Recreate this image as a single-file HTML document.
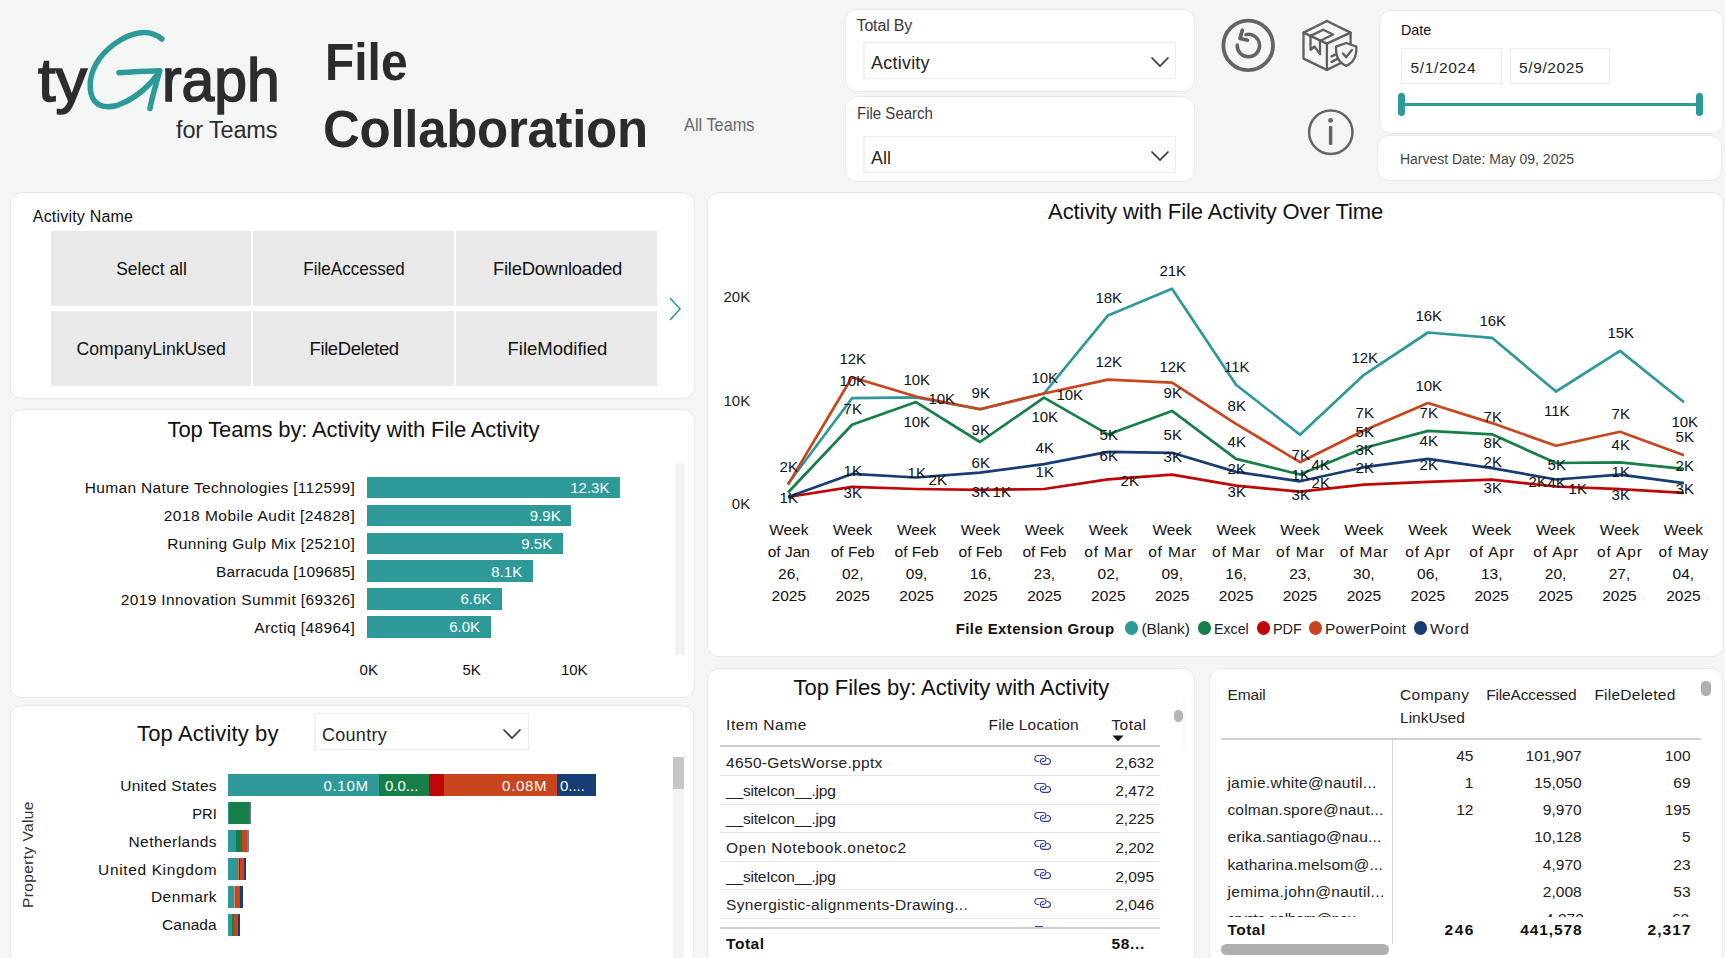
<!DOCTYPE html>
<html><head><meta charset="utf-8"><style>
html,body{margin:0;padding:0;}
body{width:1725px;height:958px;overflow:hidden;background:#f4f5f5;position:relative;font-family:'Liberation Sans',sans-serif;}
</style></head><body>
<svg style="position:absolute;left:0;top:0" width="300" height="160" viewBox="0 0 300 160">
<path d="M161.9,39 C155,33.5 147,31.8 139,33 C123,35.5 105,48.5 96,64 C89,77 88,92 94.5,101 C99.5,107 107,108 117,105.5 C130,101 142,92 150.5,83 C155,78 158,74 159.6,71.2" fill="none" stroke="#2e9999" stroke-width="5.5" stroke-linecap="round"/>
<path d="M119,72.7 C132,72 147,71 159.6,70.8 C157,82 152,96 150,108.5" fill="none" stroke="#2e9999" stroke-width="5.5" stroke-linecap="round" stroke-linejoin="round"/>
</svg>
<div style="position:absolute;left:845px;top:9px;width:350px;height:83px;background:#fff;border:1px solid #e8e8e8;border-radius:12px;box-sizing:border-box"></div>
<div style="position:absolute;left:845px;top:96px;width:350px;height:86px;background:#fff;border:1px solid #e8e8e8;border-radius:12px;box-sizing:border-box"></div>
<div style="position:absolute;left:863px;top:42px;width:313px;height:37px;border:1px solid #eeeeee;border-left:2px solid #f1f1f1;box-sizing:border-box;background:#fff"></div>
<div style="position:absolute;left:863px;top:136px;width:313px;height:37px;border:1px solid #eeeeee;border-left:2px solid #f1f1f1;box-sizing:border-box;background:#fff"></div>
<svg style="position:absolute;left:1149.5px;top:55.5px" width="20" height="12" viewBox="0 0 20 12"><path d="M1.5,1.5 L10,10 L18.5,1.5" fill="none" stroke="#333" stroke-width="1.6"/></svg>
<svg style="position:absolute;left:1149.5px;top:149.5px" width="20" height="12" viewBox="0 0 20 12"><path d="M1.5,1.5 L10,10 L18.5,1.5" fill="none" stroke="#333" stroke-width="1.6"/></svg>
<svg style="position:absolute;left:1215px;top:12px" width="68" height="68" viewBox="1215 12 68 68">
<circle cx="1248.2" cy="45.4" r="24.8" fill="none" stroke="#646464" stroke-width="3.8"/>
<path d="M1237.2,45 A11.2,11.2 0 1 0 1246,34.6" fill="none" stroke="#646464" stroke-width="3.5" stroke-linecap="round"/>
<path d="M1242.3,30.3 L1240,38.5 L1247.5,40.3" fill="none" stroke="#646464" stroke-width="3.7" stroke-linecap="round" stroke-linejoin="round"/>
</svg>
<svg style="position:absolute;left:1295px;top:15px" width="70" height="62" viewBox="1295 15 70 62">
<g fill="none" stroke="#5f5f5f" stroke-width="2.3" stroke-linejoin="round" stroke-linecap="round">
<path d="M1326.9,21 L1303.5,32.6 L1303.5,58.6 L1326.9,69.9 L1340.4,63.3"/>
<path d="M1326.9,21 L1350.6,32.6 L1350.6,43.2"/>
<path d="M1303.5,32.6 L1326.9,43.6 L1350.6,32.6"/>
<path d="M1326.9,43.6 L1326.9,69.9"/>
<path d="M1310.5,35.9 L1323.2,29.7 L1333.1,34.5 L1320.3,40.7"/>
<path d="M1310.5,35.9 L1310.5,49.8 L1314.5,46.5 L1320,54.2 L1320,40.7"/>
<path d="M1331.6,56.4 L1335.3,54.6 M1331.6,61.9 L1338.2,58.6"/>
<path d="M1346.2,43 L1336,46.6 C1335.8,52 1336.2,57 1340,61.5 C1342,63.8 1344,65 1346.2,65.8 C1348.4,65 1350.4,63.8 1352.4,61.5 C1356.2,57 1356.6,52 1356.4,46.6 Z"/>
<path d="M1343,53.5 L1346.2,57.3 L1352,49.9"/>
</g></svg>
<svg style="position:absolute;left:1303px;top:104px" width="56" height="56" viewBox="1303 104 56 56">
<circle cx="1330.8" cy="132.2" r="21.7" fill="none" stroke="#646464" stroke-width="2.5"/>
<circle cx="1330.6" cy="120.4" r="2.4" fill="#646464"/>
<rect x="1328.9" y="126.1" width="3.4" height="18.7" fill="#646464"/>
</svg>
<div style="position:absolute;left:1379px;top:10px;width:345px;height:124px;background:#fff;border:1px solid #e8e8e8;border-radius:12px;box-sizing:border-box"></div>
<div style="position:absolute;left:1377px;top:135px;width:345px;height:46px;background:#fff;border:1px solid #e8e8e8;border-radius:12px;box-sizing:border-box"></div>
<div style="position:absolute;left:1401px;top:48px;width:101px;height:36px;border:1px solid #ececec;box-sizing:border-box"></div>
<div style="position:absolute;left:1510px;top:48px;width:100px;height:36px;border:1px solid #ececec;box-sizing:border-box"></div>
<div style="position:absolute;left:1401.6px;top:102.7px;width:298px;height:3.8px;background:#2e9999"></div>
<div style="position:absolute;left:1398.2px;top:93.3px;width:6.8px;height:23.1px;background:#2e9999;border-radius:3.4px"></div>
<div style="position:absolute;left:1696.3px;top:93.3px;width:6.8px;height:23.1px;background:#2e9999;border-radius:3.4px"></div>
<div style="position:absolute;left:10px;top:192px;width:685px;height:207px;background:#fff;border:1px solid #e8e8e8;border-radius:12px;box-sizing:border-box"></div>
<div style="position:absolute;left:50.6px;top:231.2px;width:200.6px;height:74.5px;background:#e9e9e9"></div>
<div style="position:absolute;left:50.6px;top:311.1px;width:200.6px;height:75.39999999999998px;background:#e9e9e9"></div>
<div style="position:absolute;left:253.1px;top:231.2px;width:201.00000000000003px;height:74.5px;background:#e9e9e9"></div>
<div style="position:absolute;left:253.1px;top:311.1px;width:201.00000000000003px;height:75.39999999999998px;background:#e9e9e9"></div>
<div style="position:absolute;left:456px;top:231.2px;width:200.70000000000005px;height:74.5px;background:#e9e9e9"></div>
<div style="position:absolute;left:456px;top:311.1px;width:200.70000000000005px;height:75.39999999999998px;background:#e9e9e9"></div>
<svg style="position:absolute;left:664.8px;top:296px" width="20" height="28" viewBox="0 0 20 28"><path d="M5,2 L15,13 L5,24" fill="none" stroke="#2e9999" stroke-width="1.6"/></svg>
<div style="position:absolute;left:10px;top:409px;width:685px;height:289px;background:#fff;border:1px solid #e8e8e8;border-radius:12px;box-sizing:border-box"></div>
<div style="position:absolute;left:674.5px;top:462.9px;width:10.5px;height:192px;background:#f3f3f3"></div>
<div style="position:absolute;left:367.3px;top:476.7px;width:252.8px;height:21.7px;background:#2e9999"></div>
<div style="position:absolute;left:367.3px;top:504.59999999999997px;width:204.09999999999997px;height:21.7px;background:#2e9999"></div>
<div style="position:absolute;left:367.3px;top:532.5px;width:195.59999999999997px;height:21.7px;background:#2e9999"></div>
<div style="position:absolute;left:367.3px;top:560.4px;width:165.59999999999997px;height:21.7px;background:#2e9999"></div>
<div style="position:absolute;left:367.3px;top:588.3px;width:134.7px;height:21.7px;background:#2e9999"></div>
<div style="position:absolute;left:367.3px;top:616.2px;width:123.39999999999998px;height:21.7px;background:#2e9999"></div>
<div style="position:absolute;left:10px;top:705px;width:684px;height:259px;background:#fff;border:1px solid #e8e8e8;border-radius:12px;box-sizing:border-box"></div>
<div style="position:absolute;left:314px;top:713px;width:215px;height:37px;border:1px solid #eeeeee;border-left:2px solid #f1f1f1;box-sizing:border-box;background:#fff"></div>
<svg style="position:absolute;left:501.5px;top:727.5px" width="20" height="12" viewBox="0 0 20 12"><path d="M1.5,1.5 L10,10 L18.5,1.5" fill="none" stroke="#333" stroke-width="1.6"/></svg>
<div style="position:absolute;left:673px;top:756.7px;width:10.8px;height:210px;background:#f3f3f3"></div>
<div style="position:absolute;left:673px;top:756.7px;width:10.8px;height:32.5px;background:#c6c6c6"></div>
<div style="position:absolute;left:228px;top:774.1px;width:367.79999999999995px;height:21.6px;background:linear-gradient(to right,#2e9999 0.00px 151.50px,#167f48 151.50px 201.40px,#bf0707 201.40px 216.40px,#c9451d 216.40px 329.20px,#163e75 329.20px 367.80px)"></div>
<div style="position:absolute;left:228px;top:802.1px;width:23.400000000000006px;height:21.6px;background:linear-gradient(to right,#2e9999 0.00px 1.30px,#167f48 1.30px 20.60px,#c9451d 20.60px 22.20px,#7a6a8a 22.20px 23.40px)"></div>
<div style="position:absolute;left:228px;top:830.2px;width:20.900000000000006px;height:21.6px;background:linear-gradient(to right,#2e9999 0.00px 8.40px,#167f48 8.40px 14.30px,#c9451d 14.30px 19.20px,#6d7fa8 19.20px 20.90px)"></div>
<div style="position:absolute;left:228px;top:858.2px;width:18.30000000000001px;height:21.6px;background:linear-gradient(to right,#2e9999 0.00px 9.90px,#d86a48 9.90px 10.80px,#bf0707 10.80px 12.10px,#c9451d 12.10px 16.20px,#163e75 16.20px 18.30px)"></div>
<div style="position:absolute;left:228px;top:886.2px;width:14.599999999999994px;height:21.6px;background:linear-gradient(to right,#2e9999 0.00px 6.10px,#d98a6c 6.10px 7.50px,#c9451d 7.50px 11.80px,#163e75 11.80px 14.60px)"></div>
<div style="position:absolute;left:228px;top:914.2px;width:12.199999999999989px;height:21.6px;background:linear-gradient(to right,#2e9999 0.00px 4.10px,#167f48 4.10px 6.20px,#c9451d 6.20px 10.50px,#163e75 10.50px 12.20px)"></div>
<div style="position:absolute;left:707px;top:192px;width:1017px;height:465px;background:#fff;border:1px solid #e8e8e8;border-radius:12px;box-sizing:border-box"></div>
<svg style="position:absolute;left:0;top:0;z-index:3" width="1725" height="958"><polyline points="788,497.0 852,486.9 916,489.0 980,489.9 1044,489.0 1108,479.3 1172,474.6 1236,485.7 1300,491.7 1364,484.7 1428,481.8 1492,479.7 1556,486.5 1620,489.2 1684,492.9" fill="none" stroke="#bf0707" stroke-width="2.7" stroke-linejoin="round" stroke-linecap="butt"/><polyline points="788,497.0 852,473.9 916,477.5 980,472.7 1044,464.2 1108,451.9 1172,452.8 1236,471.9 1300,481.3 1364,467.2 1428,458.9 1492,468.2 1556,479.5 1620,474.6 1684,483.2" fill="none" stroke="#163e75" stroke-width="2.7" stroke-linejoin="round" stroke-linecap="butt"/><polyline points="788,492.5 852,424.8 916,402.1 980,442.0 1044,397.7 1108,434.4 1172,410.9 1236,458.9 1300,474.5 1364,448.0 1428,430.9 1492,434.3 1556,463.0 1620,462.3 1684,468.9" fill="none" stroke="#167f48" stroke-width="2.7" stroke-linejoin="round" stroke-linecap="butt"/><polyline points="788,483.7 852,398.2 916,397.3 980,409.2 1044,393.5 1108,315.4 1172,288.7 1236,384.7 1300,434.8 1364,374.8 1428,332.5 1492,337.8 1556,391.5 1620,350.9 1684,402.3" fill="none" stroke="#2e9999" stroke-width="2.7" stroke-linejoin="round" stroke-linecap="butt"/><polyline points="788,484.6 852,377.3 916,396.5 980,409.2 1044,393.5 1108,379.6 1172,382.7 1236,423.9 1300,462.2 1364,430.5 1428,403.0 1492,423.1 1556,445.8 1620,431.8 1684,455.3" fill="none" stroke="#c9451d" stroke-width="2.7" stroke-linejoin="round" stroke-linecap="butt"/></svg>
<div style="position:absolute;left:1124.8px;top:621.4000000000001px;width:13.6px;height:13.6px;background:#2e9999;border-radius:50%"></div>
<div style="position:absolute;left:1197.8px;top:621.4000000000001px;width:13.6px;height:13.6px;background:#167f48;border-radius:50%"></div>
<div style="position:absolute;left:1256.6000000000001px;top:621.4000000000001px;width:13.6px;height:13.6px;background:#bf0707;border-radius:50%"></div>
<div style="position:absolute;left:1308.9px;top:621.4000000000001px;width:13.6px;height:13.6px;background:#c9451d;border-radius:50%"></div>
<div style="position:absolute;left:1413.8px;top:621.4000000000001px;width:13.6px;height:13.6px;background:#163e75;border-radius:50%"></div>
<div style="position:absolute;left:707px;top:668px;width:488px;height:297px;background:#fff;border:1px solid #e8e8e8;border-radius:12px;box-sizing:border-box"></div>
<svg style="position:absolute;left:1111.5px;top:734.5px" width="12" height="7" viewBox="0 0 12 7"><path d="M0.5,0.5 L11.5,0.5 L6,6.5 Z" fill="#111"/></svg>
<div style="position:absolute;left:720px;top:745px;width:440.2px;height:2px;background:#cfcfcf"></div>
<div style="position:absolute;left:720px;top:775.2px;width:440.2px;height:1px;background:#e6e6e6"></div>
<svg style="position:absolute;left:1034px;top:753.9px" width="18" height="12" viewBox="1034 753.9 18 12"><g fill="none" stroke="#2f3f9a" stroke-width="1.1" stroke-linecap="round"><path d="M1038.6,761.4 L1037.8,761.4 A3,3 0 0 1 1037.8,755.4 L1043,755.4 A3,3 0 0 1 1043,761.4 L1042.1,761.4"/><path d="M1043.6,758.4 L1042.8,758.4 A3,3 0 0 0 1042.8,764.3 L1048,764.3 A3,3 0 0 0 1048,758.4 L1047.1,758.4"/></g></svg>
<div style="position:absolute;left:720px;top:803.7px;width:440.2px;height:1px;background:#e6e6e6"></div>
<svg style="position:absolute;left:1034px;top:782.4px" width="18" height="12" viewBox="1034 782.4 18 12"><g fill="none" stroke="#2f3f9a" stroke-width="1.1" stroke-linecap="round"><path d="M1038.6,789.9 L1037.8,789.9 A3,3 0 0 1 1037.8,783.9 L1043,783.9 A3,3 0 0 1 1043,789.9 L1042.1,789.9"/><path d="M1043.6,786.9 L1042.8,786.9 A3,3 0 0 0 1042.8,792.8 L1048,792.8 A3,3 0 0 0 1048,786.9 L1047.1,786.9"/></g></svg>
<div style="position:absolute;left:720px;top:832.1px;width:440.2px;height:1px;background:#e6e6e6"></div>
<svg style="position:absolute;left:1034px;top:810.8px" width="18" height="12" viewBox="1034 810.8 18 12"><g fill="none" stroke="#2f3f9a" stroke-width="1.1" stroke-linecap="round"><path d="M1038.6,818.3 L1037.8,818.3 A3,3 0 0 1 1037.8,812.3 L1043,812.3 A3,3 0 0 1 1043,818.3 L1042.1,818.3"/><path d="M1043.6,815.3 L1042.8,815.3 A3,3 0 0 0 1042.8,821.2 L1048,821.2 A3,3 0 0 0 1048,815.3 L1047.1,815.3"/></g></svg>
<div style="position:absolute;left:720px;top:860.6px;width:440.2px;height:1px;background:#e6e6e6"></div>
<svg style="position:absolute;left:1034px;top:839.3px" width="18" height="12" viewBox="1034 839.3 18 12"><g fill="none" stroke="#2f3f9a" stroke-width="1.1" stroke-linecap="round"><path d="M1038.6,846.8 L1037.8,846.8 A3,3 0 0 1 1037.8,840.8 L1043,840.8 A3,3 0 0 1 1043,846.8 L1042.1,846.8"/><path d="M1043.6,843.8 L1042.8,843.8 A3,3 0 0 0 1042.8,849.7 L1048,849.7 A3,3 0 0 0 1048,843.8 L1047.1,843.8"/></g></svg>
<div style="position:absolute;left:720px;top:889.3px;width:440.2px;height:1px;background:#e6e6e6"></div>
<svg style="position:absolute;left:1034px;top:868.0px" width="18" height="12" viewBox="1034 868.0 18 12"><g fill="none" stroke="#2f3f9a" stroke-width="1.1" stroke-linecap="round"><path d="M1038.6,875.5 L1037.8,875.5 A3,3 0 0 1 1037.8,869.5 L1043,869.5 A3,3 0 0 1 1043,875.5 L1042.1,875.5"/><path d="M1043.6,872.5 L1042.8,872.5 A3,3 0 0 0 1042.8,878.4 L1048,878.4 A3,3 0 0 0 1048,872.5 L1047.1,872.5"/></g></svg>
<div style="position:absolute;left:720px;top:918px;width:440.2px;height:1px;background:#e6e6e6"></div>
<svg style="position:absolute;left:1034px;top:896.7px" width="18" height="12" viewBox="1034 896.7 18 12"><g fill="none" stroke="#2f3f9a" stroke-width="1.1" stroke-linecap="round"><path d="M1038.6,904.2 L1037.8,904.2 A3,3 0 0 1 1037.8,898.2 L1043,898.2 A3,3 0 0 1 1043,904.2 L1042.1,904.2"/><path d="M1043.6,901.2 L1042.8,901.2 A3,3 0 0 0 1042.8,907.1 L1048,907.1 A3,3 0 0 0 1048,901.2 L1047.1,901.2"/></g></svg>
<div style="position:absolute;left:1035px;top:925.5px;width:8px;height:1.2px;background:#2f3f9a"></div>
<div style="position:absolute;left:720px;top:926.5px;width:440.2px;height:2px;background:#cfcfcf"></div>
<div style="position:absolute;left:1173.6px;top:709.7px;width:9px;height:12.5px;background:#b4b4b4;border-radius:4.5px"></div>
<div style="position:absolute;left:1183px;top:700px;width:2px;height:50px;background:#f7f7f7"></div>
<div style="position:absolute;left:1209px;top:668px;width:514px;height:299px;background:#fff;border:1px solid #e8e8e8;border-radius:12px;box-sizing:border-box"></div>
<div style="position:absolute;left:1221px;top:737.8px;width:479.8px;height:2px;background:#cfcfcf"></div>
<div style="position:absolute;left:1391.5px;top:739.5px;width:1.2px;height:204px;background:#d6d6d6"></div>
<div style="position:absolute;left:1220px;top:910px;width:480px;height:6.6px;overflow:hidden;z-index:5"><div style="position:absolute;left:7.3px;top:1.2px;font-family:'Liberation Sans';font-size:15.5px;line-height:15.5px;color:#222;letter-spacing:-0.6px;white-space:pre">crysta.galbern@nau...</div><div style="position:absolute;left:325px;top:1.2px;font-family:'Liberation Sans';font-size:15.5px;line-height:15.5px;color:#222;white-space:pre">4,870</div><div style="position:absolute;left:452px;top:1.2px;font-family:'Liberation Sans';font-size:15.5px;line-height:15.5px;color:#222;white-space:pre">62</div></div>
<div style="position:absolute;left:1221.3px;top:944px;width:167.5px;height:11px;background:#b0afae;border-radius:5.5px"></div>
<div style="position:absolute;left:1701.4px;top:681px;width:9.3px;height:14.8px;background:#b0b0b0;border-radius:4.6px"></div>
<div style="position:absolute;top:49.78px;font-family:'Liberation Sans';font-size:60.5px;line-height:60.5px;font-weight:400;color:#2d2d2d;white-space:pre;z-index:5;left:37.87px;transform:scaleX(1.0461);transform-origin:0 0;-webkit-text-stroke:1.6px #2d2d2d;">ty</div>
<div style="position:absolute;top:49.78px;font-family:'Liberation Sans';font-size:60.5px;line-height:60.5px;font-weight:400;color:#2d2d2d;white-space:pre;z-index:5;left:162.45px;transform:scaleX(0.9730);transform-origin:0 0;-webkit-text-stroke:1.6px #2d2d2d;">raph</div>
<div style="position:absolute;top:119.03px;font-family:'Liberation Sans';font-size:23.5px;line-height:23.5px;font-weight:400;color:#2d2d2d;white-space:pre;z-index:5;letter-spacing:-0.168px;left:176.06px;">for Teams</div>
<div style="position:absolute;top:37.15px;font-family:'Liberation Sans';font-size:51px;line-height:51px;font-weight:700;color:#2b2b2b;white-space:pre;z-index:5;left:324.88px;transform:scaleX(0.9397);transform-origin:0 0;">File</div>
<div style="position:absolute;top:104.15px;font-family:'Liberation Sans';font-size:51px;line-height:51px;font-weight:700;color:#2b2b2b;white-space:pre;z-index:5;letter-spacing:-0.301px;left:323.06px;">Collaboration</div>
<div style="position:absolute;top:115.78px;font-family:'Liberation Sans';font-size:18.5px;line-height:18.5px;font-weight:400;color:#6a6a6a;white-space:pre;z-index:5;left:683.75px;transform:scaleX(0.8829);transform-origin:0 0;">All Teams</div>
<div style="position:absolute;top:17.50px;font-family:'Liberation Sans';font-size:16px;line-height:16px;font-weight:400;color:#3b3a39;white-space:pre;z-index:5;letter-spacing:-0.166px;left:856.56px;">Total By</div>
<div style="position:absolute;top:53.60px;font-family:'Liberation Sans';font-size:18px;line-height:18px;font-weight:400;color:#252423;white-space:pre;z-index:5;letter-spacing:0.209px;left:871.08px;">Activity</div>
<div style="position:absolute;top:106.40px;font-family:'Liberation Sans';font-size:16px;line-height:16px;font-weight:400;color:#3b3a39;white-space:pre;z-index:5;left:856.80px;transform:scaleX(0.9387);transform-origin:0 0;">File Search</div>
<div style="position:absolute;top:148.60px;font-family:'Liberation Sans';font-size:18px;line-height:18px;font-weight:400;color:#252423;white-space:pre;z-index:5;letter-spacing:0.032px;left:870.88px;">All</div>
<div style="position:absolute;top:22.25px;font-family:'Liberation Sans';font-size:15px;line-height:15px;font-weight:400;color:#111;white-space:pre;z-index:5;left:1401.33px;transform:scaleX(0.9562);transform-origin:0 0;">Date</div>
<div style="position:absolute;top:59.83px;font-family:'Liberation Sans';font-size:15.5px;line-height:15.5px;font-weight:400;color:#252423;white-space:pre;z-index:5;letter-spacing:0.684px;left:1410.38px;">5/1/2024</div>
<div style="position:absolute;top:59.83px;font-family:'Liberation Sans';font-size:15.5px;line-height:15.5px;font-weight:400;color:#252423;white-space:pre;z-index:5;letter-spacing:0.627px;left:1518.98px;">5/9/2025</div>
<div style="position:absolute;top:152.10px;font-family:'Liberation Sans';font-size:14px;line-height:14px;font-weight:400;color:#454545;white-space:pre;z-index:5;letter-spacing:-0.011px;left:1399.94px;">Harvest Date: May 09, 2025</div>
<div style="position:absolute;top:208.50px;font-family:'Liberation Sans';font-size:16px;line-height:16px;font-weight:400;color:#111;white-space:pre;z-index:5;letter-spacing:0.205px;left:32.76px;">Activity Name</div>
<div style="position:absolute;top:259.88px;font-family:'Liberation Sans';font-size:18.5px;line-height:18.5px;font-weight:400;color:#111;white-space:pre;z-index:5;left:114.26px;transform:scaleX(0.9405);transform-origin:50% 0;">Select all</div>
<div style="position:absolute;top:259.88px;font-family:'Liberation Sans';font-size:18.5px;line-height:18.5px;font-weight:400;color:#111;white-space:pre;z-index:5;left:299.49px;transform:scaleX(0.9209);transform-origin:50% 0;">FileAccessed</div>
<div style="position:absolute;top:259.88px;font-family:'Liberation Sans';font-size:18.5px;line-height:18.5px;font-weight:400;color:#111;white-space:pre;z-index:5;letter-spacing:-0.251px;left:492.89px;">FileDownloaded</div>
<div style="position:absolute;top:340.27px;font-family:'Liberation Sans';font-size:18.5px;line-height:18.5px;font-weight:400;color:#111;white-space:pre;z-index:5;left:73.14px;transform:scaleX(0.9552);transform-origin:50% 0;">CompanyLinkUsed</div>
<div style="position:absolute;top:340.27px;font-family:'Liberation Sans';font-size:18.5px;line-height:18.5px;font-weight:400;color:#111;white-space:pre;z-index:5;letter-spacing:-0.407px;left:309.55px;">FileDeleted</div>
<div style="position:absolute;top:340.27px;font-family:'Liberation Sans';font-size:18.5px;line-height:18.5px;font-weight:400;color:#111;white-space:pre;z-index:5;letter-spacing:-0.004px;left:507.55px;">FileModified</div>
<div style="position:absolute;top:418.80px;font-family:'Liberation Sans';font-size:22px;line-height:22px;font-weight:400;color:#111;white-space:pre;z-index:5;letter-spacing:-0.139px;left:167.62px;">Top Teams by: Activity with File Activity</div>
<div style="position:absolute;top:480.32px;font-family:'Liberation Sans';font-size:15.5px;line-height:15.5px;font-weight:400;color:#111;white-space:pre;z-index:5;letter-spacing:0.340px;right:1369.94px;">Human Nature Technologies [112599]</div>
<div style="position:absolute;top:479.85px;font-family:'Liberation Sans';font-size:15px;line-height:15px;font-weight:400;color:#fff;white-space:pre;z-index:5;right:1115.60px;">12.3K</div>
<div style="position:absolute;top:508.22px;font-family:'Liberation Sans';font-size:15.5px;line-height:15.5px;font-weight:400;color:#111;white-space:pre;z-index:5;letter-spacing:0.491px;right:1369.79px;">2018 Mobile Audit [24828]</div>
<div style="position:absolute;top:507.75px;font-family:'Liberation Sans';font-size:15px;line-height:15px;font-weight:400;color:#fff;white-space:pre;z-index:5;right:1164.30px;">9.9K</div>
<div style="position:absolute;top:536.12px;font-family:'Liberation Sans';font-size:15.5px;line-height:15.5px;font-weight:400;color:#111;white-space:pre;z-index:5;letter-spacing:0.357px;right:1369.92px;">Running Gulp Mix [25210]</div>
<div style="position:absolute;top:535.65px;font-family:'Liberation Sans';font-size:15px;line-height:15px;font-weight:400;color:#fff;white-space:pre;z-index:5;right:1172.80px;">9.5K</div>
<div style="position:absolute;top:564.02px;font-family:'Liberation Sans';font-size:15.5px;line-height:15.5px;font-weight:400;color:#111;white-space:pre;z-index:5;letter-spacing:0.151px;right:1370.13px;">Barracuda [109685]</div>
<div style="position:absolute;top:563.55px;font-family:'Liberation Sans';font-size:15px;line-height:15px;font-weight:400;color:#fff;white-space:pre;z-index:5;right:1202.80px;">8.1K</div>
<div style="position:absolute;top:591.92px;font-family:'Liberation Sans';font-size:15.5px;line-height:15.5px;font-weight:400;color:#111;white-space:pre;z-index:5;letter-spacing:0.374px;right:1369.91px;">2019 Innovation Summit [69326]</div>
<div style="position:absolute;top:591.45px;font-family:'Liberation Sans';font-size:15px;line-height:15px;font-weight:400;color:#fff;white-space:pre;z-index:5;right:1233.70px;">6.6K</div>
<div style="position:absolute;top:619.83px;font-family:'Liberation Sans';font-size:15.5px;line-height:15.5px;font-weight:400;color:#111;white-space:pre;z-index:5;letter-spacing:0.375px;right:1369.91px;">Arctiq [48964]</div>
<div style="position:absolute;top:619.35px;font-family:'Liberation Sans';font-size:15px;line-height:15px;font-weight:400;color:#fff;white-space:pre;z-index:5;right:1245.00px;">6.0K</div>
<div style="position:absolute;top:662.25px;font-family:'Liberation Sans';font-size:15px;line-height:15px;font-weight:400;color:#111;white-space:pre;z-index:5;left:359.62px;">0K</div>
<div style="position:absolute;top:662.25px;font-family:'Liberation Sans';font-size:15px;line-height:15px;font-weight:400;color:#111;white-space:pre;z-index:5;left:462.42px;">5K</div>
<div style="position:absolute;top:662.25px;font-family:'Liberation Sans';font-size:15px;line-height:15px;font-weight:400;color:#111;white-space:pre;z-index:5;left:560.95px;">10K</div>
<div style="position:absolute;top:723.00px;font-family:'Liberation Sans';font-size:22px;line-height:22px;font-weight:400;color:#111;white-space:pre;z-index:5;letter-spacing:0.138px;left:137.12px;">Top Activity by</div>
<div style="position:absolute;top:725.60px;font-family:'Liberation Sans';font-size:18px;line-height:18px;font-weight:400;color:#252423;white-space:pre;z-index:5;letter-spacing:0.308px;left:321.88px;">Country</div>
<div style="position:absolute;top:-13.17px;font-family:'Liberation Sans';font-size:15.5px;line-height:15.5px;font-weight:400;color:#333;white-space:pre;z-index:5;letter-spacing:0.388px;left:28.68px;transform-origin:0 0;transform:rotate(-90deg);left:19.8px;top:908px;">Property Value</div>
<div style="position:absolute;top:778.03px;font-family:'Liberation Sans';font-size:15.5px;line-height:15.5px;font-weight:400;color:#111;white-space:pre;z-index:5;letter-spacing:0.281px;right:1508.10px;">United States</div>
<div style="position:absolute;top:806.03px;font-family:'Liberation Sans';font-size:15.5px;line-height:15.5px;font-weight:400;color:#111;white-space:pre;z-index:5;right:1508.41px;transform:scaleX(0.9530);transform-origin:100% 0;">PRI</div>
<div style="position:absolute;top:834.03px;font-family:'Liberation Sans';font-size:15.5px;line-height:15.5px;font-weight:400;color:#111;white-space:pre;z-index:5;letter-spacing:0.465px;right:1507.91px;">Netherlands</div>
<div style="position:absolute;top:862.03px;font-family:'Liberation Sans';font-size:15.5px;line-height:15.5px;font-weight:400;color:#111;white-space:pre;z-index:5;letter-spacing:0.633px;right:1507.75px;">United Kingdom</div>
<div style="position:absolute;top:888.83px;font-family:'Liberation Sans';font-size:15.5px;line-height:15.5px;font-weight:400;color:#111;white-space:pre;z-index:5;letter-spacing:0.473px;right:1507.91px;">Denmark</div>
<div style="position:absolute;top:916.53px;font-family:'Liberation Sans';font-size:15.5px;line-height:15.5px;font-weight:400;color:#111;white-space:pre;z-index:5;letter-spacing:0.047px;right:1508.33px;">Canada</div>
<div style="position:absolute;top:778.25px;font-family:'Liberation Sans';font-size:15px;line-height:15px;font-weight:400;color:#fff;white-space:pre;z-index:5;letter-spacing:0.674px;right:1356.43px;">0.10M</div>
<div style="position:absolute;top:778.25px;font-family:'Liberation Sans';font-size:15px;line-height:15px;font-weight:400;color:#fff;white-space:pre;z-index:5;left:385.00px;">0.0...</div>
<div style="position:absolute;top:778.25px;font-family:'Liberation Sans';font-size:15px;line-height:15px;font-weight:400;color:#fff;white-space:pre;z-index:5;letter-spacing:0.674px;right:1177.83px;">0.08M</div>
<div style="position:absolute;top:778.25px;font-family:'Liberation Sans';font-size:15px;line-height:15px;font-weight:400;color:#fff;white-space:pre;z-index:5;left:559.90px;">0....</div>
<div style="position:absolute;top:201.00px;font-family:'Liberation Sans';font-size:22px;line-height:22px;font-weight:400;color:#111;white-space:pre;z-index:5;letter-spacing:-0.095px;left:1048.12px;">Activity with File Activity Over Time</div>
<div style="position:absolute;top:289.45px;font-family:'Liberation Sans';font-size:15px;line-height:15px;font-weight:400;color:#222;white-space:pre;z-index:5;right:974.80px;">20K</div>
<div style="position:absolute;top:392.55px;font-family:'Liberation Sans';font-size:15px;line-height:15px;font-weight:400;color:#222;white-space:pre;z-index:5;right:974.80px;">10K</div>
<div style="position:absolute;top:495.85px;font-family:'Liberation Sans';font-size:15px;line-height:15px;font-weight:400;color:#222;white-space:pre;z-index:5;right:974.80px;">0K</div>
<div style="position:absolute;top:458.85px;font-family:'Liberation Sans';font-size:15px;line-height:15px;font-weight:400;color:#111;white-space:pre;z-index:4;left:779.62px;">2K</div>
<div style="position:absolute;top:489.55px;font-family:'Liberation Sans';font-size:15px;line-height:15px;font-weight:400;color:#111;white-space:pre;z-index:4;left:779.62px;">1K</div>
<div style="position:absolute;top:351.05px;font-family:'Liberation Sans';font-size:15px;line-height:15px;font-weight:400;color:#111;white-space:pre;z-index:4;left:839.45px;">12K</div>
<div style="position:absolute;top:373.05px;font-family:'Liberation Sans';font-size:15px;line-height:15px;font-weight:400;color:#111;white-space:pre;z-index:4;left:839.45px;">10K</div>
<div style="position:absolute;top:400.85px;font-family:'Liberation Sans';font-size:15px;line-height:15px;font-weight:400;color:#111;white-space:pre;z-index:4;left:843.62px;">7K</div>
<div style="position:absolute;top:462.55px;font-family:'Liberation Sans';font-size:15px;line-height:15px;font-weight:400;color:#111;white-space:pre;z-index:4;left:843.62px;">1K</div>
<div style="position:absolute;top:485.45px;font-family:'Liberation Sans';font-size:15px;line-height:15px;font-weight:400;color:#111;white-space:pre;z-index:4;left:843.62px;">3K</div>
<div style="position:absolute;top:371.55px;font-family:'Liberation Sans';font-size:15px;line-height:15px;font-weight:400;color:#111;white-space:pre;z-index:4;left:903.45px;">10K</div>
<div style="position:absolute;top:414.15px;font-family:'Liberation Sans';font-size:15px;line-height:15px;font-weight:400;color:#111;white-space:pre;z-index:4;left:903.45px;">10K</div>
<div style="position:absolute;top:464.65px;font-family:'Liberation Sans';font-size:15px;line-height:15px;font-weight:400;color:#111;white-space:pre;z-index:4;left:907.62px;">1K</div>
<div style="position:absolute;top:391.05px;font-family:'Liberation Sans';font-size:15px;line-height:15px;font-weight:400;color:#111;white-space:pre;z-index:4;left:928.45px;">10K</div>
<div style="position:absolute;top:471.55px;font-family:'Liberation Sans';font-size:15px;line-height:15px;font-weight:400;color:#111;white-space:pre;z-index:4;left:928.62px;">2K</div>
<div style="position:absolute;top:384.75px;font-family:'Liberation Sans';font-size:15px;line-height:15px;font-weight:400;color:#111;white-space:pre;z-index:4;left:971.62px;">9K</div>
<div style="position:absolute;top:422.05px;font-family:'Liberation Sans';font-size:15px;line-height:15px;font-weight:400;color:#111;white-space:pre;z-index:4;left:971.62px;">9K</div>
<div style="position:absolute;top:454.55px;font-family:'Liberation Sans';font-size:15px;line-height:15px;font-weight:400;color:#111;white-space:pre;z-index:4;left:971.62px;">6K</div>
<div style="position:absolute;top:483.55px;font-family:'Liberation Sans';font-size:15px;line-height:15px;font-weight:400;color:#111;white-space:pre;z-index:4;left:971.62px;">3K</div>
<div style="position:absolute;top:483.55px;font-family:'Liberation Sans';font-size:15px;line-height:15px;font-weight:400;color:#111;white-space:pre;z-index:4;left:992.62px;">1K</div>
<div style="position:absolute;top:369.75px;font-family:'Liberation Sans';font-size:15px;line-height:15px;font-weight:400;color:#111;white-space:pre;z-index:4;left:1031.45px;">10K</div>
<div style="position:absolute;top:409.05px;font-family:'Liberation Sans';font-size:15px;line-height:15px;font-weight:400;color:#111;white-space:pre;z-index:4;left:1031.45px;">10K</div>
<div style="position:absolute;top:439.55px;font-family:'Liberation Sans';font-size:15px;line-height:15px;font-weight:400;color:#111;white-space:pre;z-index:4;left:1035.62px;">4K</div>
<div style="position:absolute;top:463.55px;font-family:'Liberation Sans';font-size:15px;line-height:15px;font-weight:400;color:#111;white-space:pre;z-index:4;left:1035.62px;">1K</div>
<div style="position:absolute;top:387.05px;font-family:'Liberation Sans';font-size:15px;line-height:15px;font-weight:400;color:#111;white-space:pre;z-index:4;left:1056.45px;">10K</div>
<div style="position:absolute;top:289.85px;font-family:'Liberation Sans';font-size:15px;line-height:15px;font-weight:400;color:#111;white-space:pre;z-index:4;left:1095.45px;">18K</div>
<div style="position:absolute;top:353.55px;font-family:'Liberation Sans';font-size:15px;line-height:15px;font-weight:400;color:#111;white-space:pre;z-index:4;left:1095.45px;">12K</div>
<div style="position:absolute;top:426.55px;font-family:'Liberation Sans';font-size:15px;line-height:15px;font-weight:400;color:#111;white-space:pre;z-index:4;left:1099.62px;">5K</div>
<div style="position:absolute;top:447.55px;font-family:'Liberation Sans';font-size:15px;line-height:15px;font-weight:400;color:#111;white-space:pre;z-index:4;left:1099.62px;">6K</div>
<div style="position:absolute;top:472.55px;font-family:'Liberation Sans';font-size:15px;line-height:15px;font-weight:400;color:#111;white-space:pre;z-index:4;left:1120.62px;">2K</div>
<div style="position:absolute;top:263.05px;font-family:'Liberation Sans';font-size:15px;line-height:15px;font-weight:400;color:#111;white-space:pre;z-index:4;left:1159.45px;">21K</div>
<div style="position:absolute;top:358.55px;font-family:'Liberation Sans';font-size:15px;line-height:15px;font-weight:400;color:#111;white-space:pre;z-index:4;left:1159.45px;">12K</div>
<div style="position:absolute;top:385.05px;font-family:'Liberation Sans';font-size:15px;line-height:15px;font-weight:400;color:#111;white-space:pre;z-index:4;left:1163.62px;">9K</div>
<div style="position:absolute;top:426.55px;font-family:'Liberation Sans';font-size:15px;line-height:15px;font-weight:400;color:#111;white-space:pre;z-index:4;left:1163.62px;">5K</div>
<div style="position:absolute;top:448.55px;font-family:'Liberation Sans';font-size:15px;line-height:15px;font-weight:400;color:#111;white-space:pre;z-index:4;left:1163.62px;">3K</div>
<div style="position:absolute;top:359.05px;font-family:'Liberation Sans';font-size:15px;line-height:15px;font-weight:400;color:#111;white-space:pre;z-index:4;left:1224.01px;">11K</div>
<div style="position:absolute;top:398.05px;font-family:'Liberation Sans';font-size:15px;line-height:15px;font-weight:400;color:#111;white-space:pre;z-index:4;left:1227.62px;">8K</div>
<div style="position:absolute;top:434.05px;font-family:'Liberation Sans';font-size:15px;line-height:15px;font-weight:400;color:#111;white-space:pre;z-index:4;left:1227.62px;">4K</div>
<div style="position:absolute;top:460.55px;font-family:'Liberation Sans';font-size:15px;line-height:15px;font-weight:400;color:#111;white-space:pre;z-index:4;left:1227.62px;">2K</div>
<div style="position:absolute;top:484.05px;font-family:'Liberation Sans';font-size:15px;line-height:15px;font-weight:400;color:#111;white-space:pre;z-index:4;left:1227.62px;">3K</div>
<div style="position:absolute;top:446.55px;font-family:'Liberation Sans';font-size:15px;line-height:15px;font-weight:400;color:#111;white-space:pre;z-index:4;left:1291.62px;">7K</div>
<div style="position:absolute;top:466.55px;font-family:'Liberation Sans';font-size:15px;line-height:15px;font-weight:400;color:#111;white-space:pre;z-index:4;left:1291.62px;">1K</div>
<div style="position:absolute;top:486.55px;font-family:'Liberation Sans';font-size:15px;line-height:15px;font-weight:400;color:#111;white-space:pre;z-index:4;left:1291.62px;">3K</div>
<div style="position:absolute;top:456.55px;font-family:'Liberation Sans';font-size:15px;line-height:15px;font-weight:400;color:#111;white-space:pre;z-index:4;left:1311.62px;">4K</div>
<div style="position:absolute;top:474.55px;font-family:'Liberation Sans';font-size:15px;line-height:15px;font-weight:400;color:#111;white-space:pre;z-index:4;left:1311.62px;">2K</div>
<div style="position:absolute;top:350.05px;font-family:'Liberation Sans';font-size:15px;line-height:15px;font-weight:400;color:#111;white-space:pre;z-index:4;left:1351.45px;">12K</div>
<div style="position:absolute;top:405.05px;font-family:'Liberation Sans';font-size:15px;line-height:15px;font-weight:400;color:#111;white-space:pre;z-index:4;left:1355.62px;">7K</div>
<div style="position:absolute;top:424.05px;font-family:'Liberation Sans';font-size:15px;line-height:15px;font-weight:400;color:#111;white-space:pre;z-index:4;left:1355.62px;">5K</div>
<div style="position:absolute;top:442.05px;font-family:'Liberation Sans';font-size:15px;line-height:15px;font-weight:400;color:#111;white-space:pre;z-index:4;left:1355.62px;">3K</div>
<div style="position:absolute;top:459.55px;font-family:'Liberation Sans';font-size:15px;line-height:15px;font-weight:400;color:#111;white-space:pre;z-index:4;left:1355.62px;">2K</div>
<div style="position:absolute;top:307.55px;font-family:'Liberation Sans';font-size:15px;line-height:15px;font-weight:400;color:#111;white-space:pre;z-index:4;left:1415.45px;">16K</div>
<div style="position:absolute;top:377.55px;font-family:'Liberation Sans';font-size:15px;line-height:15px;font-weight:400;color:#111;white-space:pre;z-index:4;left:1415.45px;">10K</div>
<div style="position:absolute;top:405.05px;font-family:'Liberation Sans';font-size:15px;line-height:15px;font-weight:400;color:#111;white-space:pre;z-index:4;left:1419.62px;">7K</div>
<div style="position:absolute;top:432.55px;font-family:'Liberation Sans';font-size:15px;line-height:15px;font-weight:400;color:#111;white-space:pre;z-index:4;left:1419.62px;">4K</div>
<div style="position:absolute;top:456.55px;font-family:'Liberation Sans';font-size:15px;line-height:15px;font-weight:400;color:#111;white-space:pre;z-index:4;left:1419.62px;">2K</div>
<div style="position:absolute;top:313.05px;font-family:'Liberation Sans';font-size:15px;line-height:15px;font-weight:400;color:#111;white-space:pre;z-index:4;left:1479.45px;">16K</div>
<div style="position:absolute;top:409.05px;font-family:'Liberation Sans';font-size:15px;line-height:15px;font-weight:400;color:#111;white-space:pre;z-index:4;left:1483.62px;">7K</div>
<div style="position:absolute;top:435.05px;font-family:'Liberation Sans';font-size:15px;line-height:15px;font-weight:400;color:#111;white-space:pre;z-index:4;left:1483.62px;">8K</div>
<div style="position:absolute;top:454.05px;font-family:'Liberation Sans';font-size:15px;line-height:15px;font-weight:400;color:#111;white-space:pre;z-index:4;left:1483.62px;">2K</div>
<div style="position:absolute;top:480.05px;font-family:'Liberation Sans';font-size:15px;line-height:15px;font-weight:400;color:#111;white-space:pre;z-index:4;left:1483.62px;">3K</div>
<div style="position:absolute;top:403.05px;font-family:'Liberation Sans';font-size:15px;line-height:15px;font-weight:400;color:#111;white-space:pre;z-index:4;left:1544.01px;">11K</div>
<div style="position:absolute;top:457.05px;font-family:'Liberation Sans';font-size:15px;line-height:15px;font-weight:400;color:#111;white-space:pre;z-index:4;left:1547.62px;">5K</div>
<div style="position:absolute;top:474.55px;font-family:'Liberation Sans';font-size:15px;line-height:15px;font-weight:400;color:#111;white-space:pre;z-index:4;left:1547.62px;">4K</div>
<div style="position:absolute;top:474.05px;font-family:'Liberation Sans';font-size:15px;line-height:15px;font-weight:400;color:#111;white-space:pre;z-index:4;left:1528.62px;">2K</div>
<div style="position:absolute;top:481.05px;font-family:'Liberation Sans';font-size:15px;line-height:15px;font-weight:400;color:#111;white-space:pre;z-index:4;left:1568.62px;">1K</div>
<div style="position:absolute;top:325.05px;font-family:'Liberation Sans';font-size:15px;line-height:15px;font-weight:400;color:#111;white-space:pre;z-index:4;left:1607.45px;">15K</div>
<div style="position:absolute;top:406.05px;font-family:'Liberation Sans';font-size:15px;line-height:15px;font-weight:400;color:#111;white-space:pre;z-index:4;left:1611.62px;">7K</div>
<div style="position:absolute;top:437.05px;font-family:'Liberation Sans';font-size:15px;line-height:15px;font-weight:400;color:#111;white-space:pre;z-index:4;left:1611.62px;">4K</div>
<div style="position:absolute;top:464.05px;font-family:'Liberation Sans';font-size:15px;line-height:15px;font-weight:400;color:#111;white-space:pre;z-index:4;left:1611.62px;">1K</div>
<div style="position:absolute;top:486.55px;font-family:'Liberation Sans';font-size:15px;line-height:15px;font-weight:400;color:#111;white-space:pre;z-index:4;left:1611.62px;">3K</div>
<div style="position:absolute;top:414.05px;font-family:'Liberation Sans';font-size:15px;line-height:15px;font-weight:400;color:#111;white-space:pre;z-index:4;left:1671.45px;">10K</div>
<div style="position:absolute;top:429.05px;font-family:'Liberation Sans';font-size:15px;line-height:15px;font-weight:400;color:#111;white-space:pre;z-index:4;left:1675.62px;">5K</div>
<div style="position:absolute;top:458.05px;font-family:'Liberation Sans';font-size:15px;line-height:15px;font-weight:400;color:#111;white-space:pre;z-index:4;left:1675.62px;">2K</div>
<div style="position:absolute;top:481.05px;font-family:'Liberation Sans';font-size:15px;line-height:15px;font-weight:400;color:#111;white-space:pre;z-index:4;left:1675.62px;">3K</div>
<div style="position:absolute;top:522.12px;font-family:'Liberation Sans';font-size:15.5px;line-height:15.5px;font-weight:400;color:#111;white-space:pre;z-index:5;left:769.13px;">Week</div>
<div style="position:absolute;top:543.93px;font-family:'Liberation Sans';font-size:15.5px;line-height:15.5px;font-weight:400;color:#111;white-space:pre;z-index:5;left:767.68px;">of Jan</div>
<div style="position:absolute;top:565.93px;font-family:'Liberation Sans';font-size:15.5px;line-height:15.5px;font-weight:400;color:#111;white-space:pre;z-index:5;left:778.02px;">26,</div>
<div style="position:absolute;top:587.83px;font-family:'Liberation Sans';font-size:15.5px;line-height:15.5px;font-weight:400;color:#111;white-space:pre;z-index:5;left:771.56px;">2025</div>
<div style="position:absolute;top:522.12px;font-family:'Liberation Sans';font-size:15.5px;line-height:15.5px;font-weight:400;color:#111;white-space:pre;z-index:5;left:833.03px;">Week</div>
<div style="position:absolute;top:543.93px;font-family:'Liberation Sans';font-size:15.5px;line-height:15.5px;font-weight:400;color:#111;white-space:pre;z-index:5;left:830.72px;">of Feb</div>
<div style="position:absolute;top:565.93px;font-family:'Liberation Sans';font-size:15.5px;line-height:15.5px;font-weight:400;color:#111;white-space:pre;z-index:5;left:841.92px;">02,</div>
<div style="position:absolute;top:587.83px;font-family:'Liberation Sans';font-size:15.5px;line-height:15.5px;font-weight:400;color:#111;white-space:pre;z-index:5;left:835.46px;">2025</div>
<div style="position:absolute;top:522.12px;font-family:'Liberation Sans';font-size:15.5px;line-height:15.5px;font-weight:400;color:#111;white-space:pre;z-index:5;left:896.93px;">Week</div>
<div style="position:absolute;top:543.93px;font-family:'Liberation Sans';font-size:15.5px;line-height:15.5px;font-weight:400;color:#111;white-space:pre;z-index:5;left:894.62px;">of Feb</div>
<div style="position:absolute;top:565.93px;font-family:'Liberation Sans';font-size:15.5px;line-height:15.5px;font-weight:400;color:#111;white-space:pre;z-index:5;left:905.82px;">09,</div>
<div style="position:absolute;top:587.83px;font-family:'Liberation Sans';font-size:15.5px;line-height:15.5px;font-weight:400;color:#111;white-space:pre;z-index:5;left:899.36px;">2025</div>
<div style="position:absolute;top:522.12px;font-family:'Liberation Sans';font-size:15.5px;line-height:15.5px;font-weight:400;color:#111;white-space:pre;z-index:5;left:960.83px;">Week</div>
<div style="position:absolute;top:543.93px;font-family:'Liberation Sans';font-size:15.5px;line-height:15.5px;font-weight:400;color:#111;white-space:pre;z-index:5;left:958.52px;">of Feb</div>
<div style="position:absolute;top:565.93px;font-family:'Liberation Sans';font-size:15.5px;line-height:15.5px;font-weight:400;color:#111;white-space:pre;z-index:5;left:969.72px;">16,</div>
<div style="position:absolute;top:587.83px;font-family:'Liberation Sans';font-size:15.5px;line-height:15.5px;font-weight:400;color:#111;white-space:pre;z-index:5;left:963.26px;">2025</div>
<div style="position:absolute;top:522.12px;font-family:'Liberation Sans';font-size:15.5px;line-height:15.5px;font-weight:400;color:#111;white-space:pre;z-index:5;left:1024.73px;">Week</div>
<div style="position:absolute;top:543.93px;font-family:'Liberation Sans';font-size:15.5px;line-height:15.5px;font-weight:400;color:#111;white-space:pre;z-index:5;left:1022.42px;">of Feb</div>
<div style="position:absolute;top:565.93px;font-family:'Liberation Sans';font-size:15.5px;line-height:15.5px;font-weight:400;color:#111;white-space:pre;z-index:5;left:1033.62px;">23,</div>
<div style="position:absolute;top:587.83px;font-family:'Liberation Sans';font-size:15.5px;line-height:15.5px;font-weight:400;color:#111;white-space:pre;z-index:5;left:1027.16px;">2025</div>
<div style="position:absolute;top:522.12px;font-family:'Liberation Sans';font-size:15.5px;line-height:15.5px;font-weight:400;color:#111;white-space:pre;z-index:5;left:1088.63px;">Week</div>
<div style="position:absolute;top:543.93px;font-family:'Liberation Sans';font-size:15.5px;line-height:15.5px;font-weight:400;color:#111;white-space:pre;z-index:5;letter-spacing:0.839px;left:1084.23px;">of Mar</div>
<div style="position:absolute;top:565.93px;font-family:'Liberation Sans';font-size:15.5px;line-height:15.5px;font-weight:400;color:#111;white-space:pre;z-index:5;left:1097.52px;">02,</div>
<div style="position:absolute;top:587.83px;font-family:'Liberation Sans';font-size:15.5px;line-height:15.5px;font-weight:400;color:#111;white-space:pre;z-index:5;left:1091.06px;">2025</div>
<div style="position:absolute;top:522.12px;font-family:'Liberation Sans';font-size:15.5px;line-height:15.5px;font-weight:400;color:#111;white-space:pre;z-index:5;left:1152.53px;">Week</div>
<div style="position:absolute;top:543.93px;font-family:'Liberation Sans';font-size:15.5px;line-height:15.5px;font-weight:400;color:#111;white-space:pre;z-index:5;letter-spacing:0.839px;left:1148.13px;">of Mar</div>
<div style="position:absolute;top:565.93px;font-family:'Liberation Sans';font-size:15.5px;line-height:15.5px;font-weight:400;color:#111;white-space:pre;z-index:5;left:1161.42px;">09,</div>
<div style="position:absolute;top:587.83px;font-family:'Liberation Sans';font-size:15.5px;line-height:15.5px;font-weight:400;color:#111;white-space:pre;z-index:5;left:1154.96px;">2025</div>
<div style="position:absolute;top:522.12px;font-family:'Liberation Sans';font-size:15.5px;line-height:15.5px;font-weight:400;color:#111;white-space:pre;z-index:5;left:1216.43px;">Week</div>
<div style="position:absolute;top:543.93px;font-family:'Liberation Sans';font-size:15.5px;line-height:15.5px;font-weight:400;color:#111;white-space:pre;z-index:5;letter-spacing:0.839px;left:1212.03px;">of Mar</div>
<div style="position:absolute;top:565.93px;font-family:'Liberation Sans';font-size:15.5px;line-height:15.5px;font-weight:400;color:#111;white-space:pre;z-index:5;left:1225.32px;">16,</div>
<div style="position:absolute;top:587.83px;font-family:'Liberation Sans';font-size:15.5px;line-height:15.5px;font-weight:400;color:#111;white-space:pre;z-index:5;left:1218.86px;">2025</div>
<div style="position:absolute;top:522.12px;font-family:'Liberation Sans';font-size:15.5px;line-height:15.5px;font-weight:400;color:#111;white-space:pre;z-index:5;left:1280.33px;">Week</div>
<div style="position:absolute;top:543.93px;font-family:'Liberation Sans';font-size:15.5px;line-height:15.5px;font-weight:400;color:#111;white-space:pre;z-index:5;letter-spacing:0.839px;left:1275.93px;">of Mar</div>
<div style="position:absolute;top:565.93px;font-family:'Liberation Sans';font-size:15.5px;line-height:15.5px;font-weight:400;color:#111;white-space:pre;z-index:5;left:1289.22px;">23,</div>
<div style="position:absolute;top:587.83px;font-family:'Liberation Sans';font-size:15.5px;line-height:15.5px;font-weight:400;color:#111;white-space:pre;z-index:5;left:1282.76px;">2025</div>
<div style="position:absolute;top:522.12px;font-family:'Liberation Sans';font-size:15.5px;line-height:15.5px;font-weight:400;color:#111;white-space:pre;z-index:5;left:1344.23px;">Week</div>
<div style="position:absolute;top:543.93px;font-family:'Liberation Sans';font-size:15.5px;line-height:15.5px;font-weight:400;color:#111;white-space:pre;z-index:5;letter-spacing:0.839px;left:1339.83px;">of Mar</div>
<div style="position:absolute;top:565.93px;font-family:'Liberation Sans';font-size:15.5px;line-height:15.5px;font-weight:400;color:#111;white-space:pre;z-index:5;left:1353.12px;">30,</div>
<div style="position:absolute;top:587.83px;font-family:'Liberation Sans';font-size:15.5px;line-height:15.5px;font-weight:400;color:#111;white-space:pre;z-index:5;left:1346.66px;">2025</div>
<div style="position:absolute;top:522.12px;font-family:'Liberation Sans';font-size:15.5px;line-height:15.5px;font-weight:400;color:#111;white-space:pre;z-index:5;left:1408.13px;">Week</div>
<div style="position:absolute;top:543.93px;font-family:'Liberation Sans';font-size:15.5px;line-height:15.5px;font-weight:400;color:#111;white-space:pre;z-index:5;letter-spacing:0.886px;left:1405.34px;">of Apr</div>
<div style="position:absolute;top:565.93px;font-family:'Liberation Sans';font-size:15.5px;line-height:15.5px;font-weight:400;color:#111;white-space:pre;z-index:5;left:1417.02px;">06,</div>
<div style="position:absolute;top:587.83px;font-family:'Liberation Sans';font-size:15.5px;line-height:15.5px;font-weight:400;color:#111;white-space:pre;z-index:5;left:1410.56px;">2025</div>
<div style="position:absolute;top:522.12px;font-family:'Liberation Sans';font-size:15.5px;line-height:15.5px;font-weight:400;color:#111;white-space:pre;z-index:5;left:1472.03px;">Week</div>
<div style="position:absolute;top:543.93px;font-family:'Liberation Sans';font-size:15.5px;line-height:15.5px;font-weight:400;color:#111;white-space:pre;z-index:5;letter-spacing:0.886px;left:1469.24px;">of Apr</div>
<div style="position:absolute;top:565.93px;font-family:'Liberation Sans';font-size:15.5px;line-height:15.5px;font-weight:400;color:#111;white-space:pre;z-index:5;left:1480.92px;">13,</div>
<div style="position:absolute;top:587.83px;font-family:'Liberation Sans';font-size:15.5px;line-height:15.5px;font-weight:400;color:#111;white-space:pre;z-index:5;left:1474.46px;">2025</div>
<div style="position:absolute;top:522.12px;font-family:'Liberation Sans';font-size:15.5px;line-height:15.5px;font-weight:400;color:#111;white-space:pre;z-index:5;left:1535.93px;">Week</div>
<div style="position:absolute;top:543.93px;font-family:'Liberation Sans';font-size:15.5px;line-height:15.5px;font-weight:400;color:#111;white-space:pre;z-index:5;letter-spacing:0.886px;left:1533.13px;">of Apr</div>
<div style="position:absolute;top:565.93px;font-family:'Liberation Sans';font-size:15.5px;line-height:15.5px;font-weight:400;color:#111;white-space:pre;z-index:5;left:1544.82px;">20,</div>
<div style="position:absolute;top:587.83px;font-family:'Liberation Sans';font-size:15.5px;line-height:15.5px;font-weight:400;color:#111;white-space:pre;z-index:5;left:1538.36px;">2025</div>
<div style="position:absolute;top:522.12px;font-family:'Liberation Sans';font-size:15.5px;line-height:15.5px;font-weight:400;color:#111;white-space:pre;z-index:5;left:1599.83px;">Week</div>
<div style="position:absolute;top:543.93px;font-family:'Liberation Sans';font-size:15.5px;line-height:15.5px;font-weight:400;color:#111;white-space:pre;z-index:5;letter-spacing:0.886px;left:1597.03px;">of Apr</div>
<div style="position:absolute;top:565.93px;font-family:'Liberation Sans';font-size:15.5px;line-height:15.5px;font-weight:400;color:#111;white-space:pre;z-index:5;left:1608.72px;">27,</div>
<div style="position:absolute;top:587.83px;font-family:'Liberation Sans';font-size:15.5px;line-height:15.5px;font-weight:400;color:#111;white-space:pre;z-index:5;left:1602.26px;">2025</div>
<div style="position:absolute;top:522.12px;font-family:'Liberation Sans';font-size:15.5px;line-height:15.5px;font-weight:400;color:#111;white-space:pre;z-index:5;left:1663.73px;">Week</div>
<div style="position:absolute;top:543.93px;font-family:'Liberation Sans';font-size:15.5px;line-height:15.5px;font-weight:400;color:#111;white-space:pre;z-index:5;letter-spacing:0.683px;left:1658.43px;">of May</div>
<div style="position:absolute;top:565.93px;font-family:'Liberation Sans';font-size:15.5px;line-height:15.5px;font-weight:400;color:#111;white-space:pre;z-index:5;left:1672.62px;">04,</div>
<div style="position:absolute;top:587.83px;font-family:'Liberation Sans';font-size:15.5px;line-height:15.5px;font-weight:400;color:#111;white-space:pre;z-index:5;left:1666.16px;">2025</div>
<div style="position:absolute;top:621.35px;font-family:'Liberation Sans';font-size:15px;line-height:15px;font-weight:700;color:#111;white-space:pre;z-index:5;letter-spacing:0.397px;left:955.70px;">File Extension Group</div>
<div style="position:absolute;top:620.93px;font-family:'Liberation Sans';font-size:15.5px;line-height:15.5px;font-weight:400;color:#222;white-space:pre;z-index:5;letter-spacing:-0.113px;left:1141.38px;">(Blank)</div>
<div style="position:absolute;top:620.93px;font-family:'Liberation Sans';font-size:15.5px;line-height:15.5px;font-weight:400;color:#222;white-space:pre;z-index:5;left:1214.03px;transform:scaleX(0.9162);transform-origin:0 0;">Excel</div>
<div style="position:absolute;top:620.93px;font-family:'Liberation Sans';font-size:15.5px;line-height:15.5px;font-weight:400;color:#222;white-space:pre;z-index:5;left:1273.12px;transform:scaleX(0.9300);transform-origin:0 0;">PDF</div>
<div style="position:absolute;top:620.93px;font-family:'Liberation Sans';font-size:15.5px;line-height:15.5px;font-weight:400;color:#222;white-space:pre;z-index:5;letter-spacing:0.174px;left:1325.08px;">PowerPoint</div>
<div style="position:absolute;top:620.93px;font-family:'Liberation Sans';font-size:15.5px;line-height:15.5px;font-weight:400;color:#222;white-space:pre;z-index:5;letter-spacing:0.688px;left:1429.98px;">Word</div>
<div style="position:absolute;top:677.20px;font-family:'Liberation Sans';font-size:22px;line-height:22px;font-weight:400;color:#111;white-space:pre;z-index:5;letter-spacing:-0.059px;left:793.52px;">Top Files by: Activity with Activity</div>
<div style="position:absolute;top:716.93px;font-family:'Liberation Sans';font-size:15.5px;line-height:15.5px;font-weight:400;color:#222;white-space:pre;z-index:5;letter-spacing:0.565px;left:726.08px;">Item Name</div>
<div style="position:absolute;top:716.93px;font-family:'Liberation Sans';font-size:15.5px;line-height:15.5px;font-weight:400;color:#222;white-space:pre;z-index:5;letter-spacing:0.187px;left:988.58px;">File Location</div>
<div style="position:absolute;top:716.93px;font-family:'Liberation Sans';font-size:15.5px;line-height:15.5px;font-weight:400;color:#222;white-space:pre;z-index:5;letter-spacing:0.445px;left:1111.38px;">Total</div>
<div style="position:absolute;top:754.53px;font-family:'Liberation Sans';font-size:15.5px;line-height:15.5px;font-weight:400;color:#222;white-space:pre;z-index:5;letter-spacing:0.319px;left:726.08px;">4650-GetsWorse.pptx</div>
<div style="position:absolute;top:754.53px;font-family:'Liberation Sans';font-size:15.5px;line-height:15.5px;font-weight:400;color:#222;white-space:pre;z-index:5;right:570.98px;">2,632</div>
<div style="position:absolute;top:783.03px;font-family:'Liberation Sans';font-size:15.5px;line-height:15.5px;font-weight:400;color:#222;white-space:pre;z-index:5;letter-spacing:-0.211px;left:726.08px;">__siteIcon__.jpg</div>
<div style="position:absolute;top:783.03px;font-family:'Liberation Sans';font-size:15.5px;line-height:15.5px;font-weight:400;color:#222;white-space:pre;z-index:5;right:570.98px;">2,472</div>
<div style="position:absolute;top:811.43px;font-family:'Liberation Sans';font-size:15.5px;line-height:15.5px;font-weight:400;color:#222;white-space:pre;z-index:5;letter-spacing:-0.211px;left:726.08px;">__siteIcon__.jpg</div>
<div style="position:absolute;top:811.43px;font-family:'Liberation Sans';font-size:15.5px;line-height:15.5px;font-weight:400;color:#222;white-space:pre;z-index:5;right:570.98px;">2,225</div>
<div style="position:absolute;top:839.93px;font-family:'Liberation Sans';font-size:15.5px;line-height:15.5px;font-weight:400;color:#222;white-space:pre;z-index:5;letter-spacing:0.594px;left:726.08px;">Open Notebook.onetoc2</div>
<div style="position:absolute;top:839.93px;font-family:'Liberation Sans';font-size:15.5px;line-height:15.5px;font-weight:400;color:#222;white-space:pre;z-index:5;right:570.98px;">2,202</div>
<div style="position:absolute;top:868.62px;font-family:'Liberation Sans';font-size:15.5px;line-height:15.5px;font-weight:400;color:#222;white-space:pre;z-index:5;letter-spacing:-0.211px;left:726.08px;">__siteIcon__.jpg</div>
<div style="position:absolute;top:868.62px;font-family:'Liberation Sans';font-size:15.5px;line-height:15.5px;font-weight:400;color:#222;white-space:pre;z-index:5;right:570.98px;">2,095</div>
<div style="position:absolute;top:897.33px;font-family:'Liberation Sans';font-size:15.5px;line-height:15.5px;font-weight:400;color:#222;white-space:pre;z-index:5;letter-spacing:0.340px;left:726.08px;">Synergistic-alignments-Drawing...</div>
<div style="position:absolute;top:897.33px;font-family:'Liberation Sans';font-size:15.5px;line-height:15.5px;font-weight:400;color:#222;white-space:pre;z-index:5;right:570.98px;">2,046</div>
<div style="position:absolute;top:936.03px;font-family:'Liberation Sans';font-size:15.5px;line-height:15.5px;font-weight:700;color:#111;white-space:pre;z-index:5;letter-spacing:0.514px;left:726.08px;">Total</div>
<div style="position:absolute;top:936.03px;font-family:'Liberation Sans';font-size:15.5px;line-height:15.5px;font-weight:700;color:#111;white-space:pre;z-index:5;letter-spacing:0.690px;left:1111.38px;">58...</div>
<div style="position:absolute;top:687.23px;font-family:'Liberation Sans';font-size:15.5px;line-height:15.5px;font-weight:400;color:#222;white-space:pre;z-index:5;letter-spacing:-0.084px;left:1227.38px;">Email</div>
<div style="position:absolute;top:687.23px;font-family:'Liberation Sans';font-size:15.5px;line-height:15.5px;font-weight:400;color:#222;white-space:pre;z-index:5;letter-spacing:0.431px;left:1399.98px;">Company</div>
<div style="position:absolute;top:709.62px;font-family:'Liberation Sans';font-size:15.5px;line-height:15.5px;font-weight:400;color:#222;white-space:pre;z-index:5;letter-spacing:0.044px;left:1399.98px;">LinkUsed</div>
<div style="position:absolute;top:687.23px;font-family:'Liberation Sans';font-size:15.5px;line-height:15.5px;font-weight:400;color:#222;white-space:pre;z-index:5;letter-spacing:-0.151px;left:1486.18px;">FileAccessed</div>
<div style="position:absolute;top:687.23px;font-family:'Liberation Sans';font-size:15.5px;line-height:15.5px;font-weight:400;color:#222;white-space:pre;z-index:5;letter-spacing:0.252px;left:1594.38px;">FileDeleted</div>
<div style="position:absolute;top:747.62px;font-family:'Liberation Sans';font-size:15.5px;line-height:15.5px;font-weight:400;color:#222;white-space:pre;z-index:5;right:251.58px;">45</div>
<div style="position:absolute;top:747.62px;font-family:'Liberation Sans';font-size:15.5px;line-height:15.5px;font-weight:400;color:#222;white-space:pre;z-index:5;right:143.38px;">101,907</div>
<div style="position:absolute;top:747.62px;font-family:'Liberation Sans';font-size:15.5px;line-height:15.5px;font-weight:400;color:#222;white-space:pre;z-index:5;right:34.48px;">100</div>
<div style="position:absolute;top:775.03px;font-family:'Liberation Sans';font-size:15.5px;line-height:15.5px;font-weight:400;color:#222;white-space:pre;z-index:5;letter-spacing:0.284px;left:1227.38px;">jamie.white@nautil...</div>
<div style="position:absolute;top:775.03px;font-family:'Liberation Sans';font-size:15.5px;line-height:15.5px;font-weight:400;color:#222;white-space:pre;z-index:5;right:251.58px;">1</div>
<div style="position:absolute;top:775.03px;font-family:'Liberation Sans';font-size:15.5px;line-height:15.5px;font-weight:400;color:#222;white-space:pre;z-index:5;right:143.38px;">15,050</div>
<div style="position:absolute;top:775.03px;font-family:'Liberation Sans';font-size:15.5px;line-height:15.5px;font-weight:400;color:#222;white-space:pre;z-index:5;right:34.48px;">69</div>
<div style="position:absolute;top:802.12px;font-family:'Liberation Sans';font-size:15.5px;line-height:15.5px;font-weight:400;color:#222;white-space:pre;z-index:5;letter-spacing:0.213px;left:1227.38px;">colman.spore@naut...</div>
<div style="position:absolute;top:802.12px;font-family:'Liberation Sans';font-size:15.5px;line-height:15.5px;font-weight:400;color:#222;white-space:pre;z-index:5;right:251.58px;">12</div>
<div style="position:absolute;top:802.12px;font-family:'Liberation Sans';font-size:15.5px;line-height:15.5px;font-weight:400;color:#222;white-space:pre;z-index:5;right:143.38px;">9,970</div>
<div style="position:absolute;top:802.12px;font-family:'Liberation Sans';font-size:15.5px;line-height:15.5px;font-weight:400;color:#222;white-space:pre;z-index:5;right:34.48px;">195</div>
<div style="position:absolute;top:829.43px;font-family:'Liberation Sans';font-size:15.5px;line-height:15.5px;font-weight:400;color:#222;white-space:pre;z-index:5;letter-spacing:0.145px;left:1227.38px;">erika.santiago@nau...</div>
<div style="position:absolute;top:829.43px;font-family:'Liberation Sans';font-size:15.5px;line-height:15.5px;font-weight:400;color:#222;white-space:pre;z-index:5;right:143.38px;">10,128</div>
<div style="position:absolute;top:829.43px;font-family:'Liberation Sans';font-size:15.5px;line-height:15.5px;font-weight:400;color:#222;white-space:pre;z-index:5;right:34.48px;">5</div>
<div style="position:absolute;top:856.53px;font-family:'Liberation Sans';font-size:15.5px;line-height:15.5px;font-weight:400;color:#222;white-space:pre;z-index:5;letter-spacing:0.234px;left:1227.38px;">katharina.melsom@...</div>
<div style="position:absolute;top:856.53px;font-family:'Liberation Sans';font-size:15.5px;line-height:15.5px;font-weight:400;color:#222;white-space:pre;z-index:5;right:143.38px;">4,970</div>
<div style="position:absolute;top:856.53px;font-family:'Liberation Sans';font-size:15.5px;line-height:15.5px;font-weight:400;color:#222;white-space:pre;z-index:5;right:34.48px;">23</div>
<div style="position:absolute;top:883.83px;font-family:'Liberation Sans';font-size:15.5px;line-height:15.5px;font-weight:400;color:#222;white-space:pre;z-index:5;letter-spacing:0.382px;left:1227.38px;">jemima.john@nautil...</div>
<div style="position:absolute;top:883.83px;font-family:'Liberation Sans';font-size:15.5px;line-height:15.5px;font-weight:400;color:#222;white-space:pre;z-index:5;right:143.38px;">2,008</div>
<div style="position:absolute;top:883.83px;font-family:'Liberation Sans';font-size:15.5px;line-height:15.5px;font-weight:400;color:#222;white-space:pre;z-index:5;right:34.48px;">53</div>
<div style="position:absolute;top:922.12px;font-family:'Liberation Sans';font-size:15.5px;line-height:15.5px;font-weight:700;color:#111;white-space:pre;z-index:5;letter-spacing:0.514px;left:1227.38px;">Total</div>
<div style="position:absolute;top:922.12px;font-family:'Liberation Sans';font-size:15.5px;line-height:15.5px;font-weight:700;color:#111;white-space:pre;z-index:5;letter-spacing:1.527px;right:250.05px;">246</div>
<div style="position:absolute;top:922.12px;font-family:'Liberation Sans';font-size:15.5px;line-height:15.5px;font-weight:700;color:#111;white-space:pre;z-index:5;letter-spacing:0.900px;right:142.48px;">441,578</div>
<div style="position:absolute;top:922.12px;font-family:'Liberation Sans';font-size:15.5px;line-height:15.5px;font-weight:700;color:#111;white-space:pre;z-index:5;letter-spacing:1.033px;right:33.45px;">2,317</div>
</body></html>
